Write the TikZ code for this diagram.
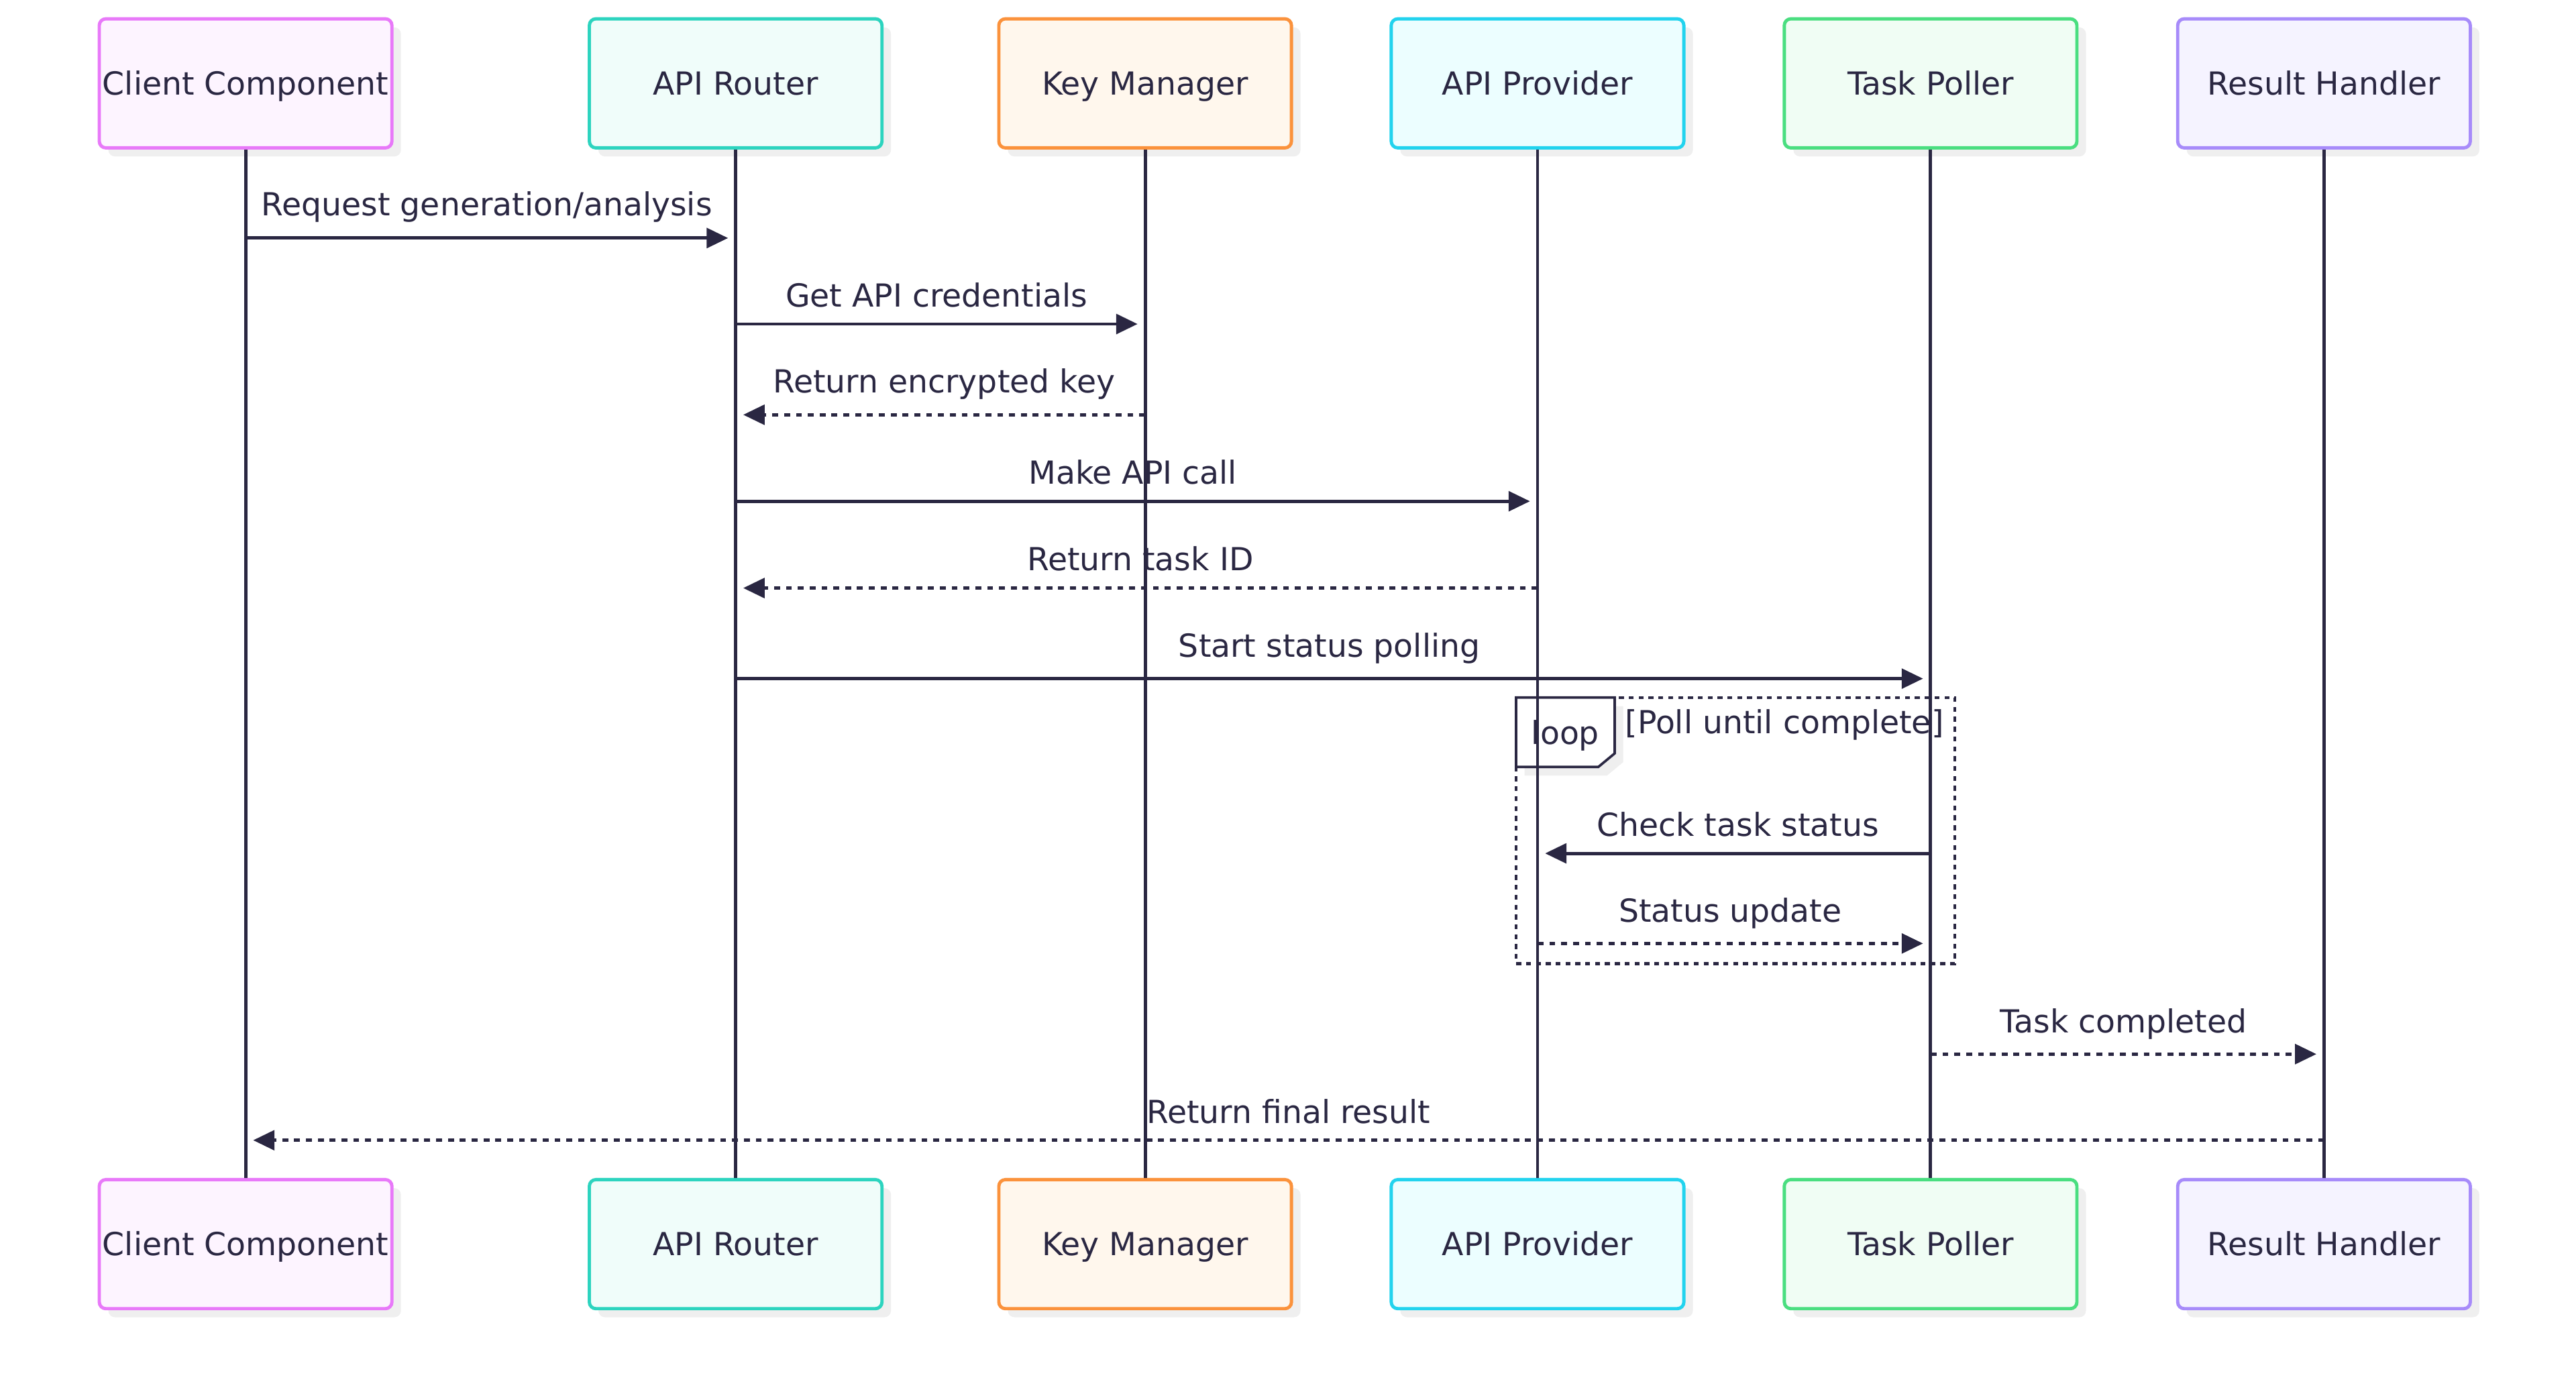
\documentclass[tikz,border=0pt]{standalone}
\usepackage{fontspec}
\setmainfont{DejaVu Sans}
\usetikzlibrary{arrows.meta,shadows,calc}
\definecolor{ink}{HTML}{2A2742}
\definecolor{shadowgray}{HTML}{EFEFEF}
\definecolor{clS}{HTML}{E879F9}\definecolor{clF}{HTML}{FDF4FF}
\definecolor{rtS}{HTML}{2DD4BF}\definecolor{rtF}{HTML}{F0FDFA}
\definecolor{kmS}{HTML}{FB923C}\definecolor{kmF}{HTML}{FFF7ED}
\definecolor{apS}{HTML}{22D3EE}\definecolor{apF}{HTML}{ECFEFF}
\definecolor{tpS}{HTML}{4ADE80}\definecolor{tpF}{HTML}{F0FDF4}
\definecolor{rhS}{HTML}{A78BFA}\definecolor{rhF}{HTML}{F5F3FF}
\begin{document}
\begin{tikzpicture}[x=1pt,y=-1pt,
  font=\fontsize{19.3}{23}\selectfont,
  actor/.style={rectangle, rounded corners=4pt, line width=2pt,
    minimum width=178pt, minimum height=78.5pt, inner sep=0pt, text=ink,
    text height=14pt, text depth=0pt,
    drop shadow={shadow xshift=5.5pt, shadow yshift=-5.2pt, fill=shadowgray, opacity=1}},
  life/.style={draw=ink, line width=2pt},
  msg/.style={draw=ink, line width=2pt, -{Triangle[length=13pt,width=12pt]}},
  reply/.style={msg, dash pattern=on 3.6pt off 3.6pt},
  lbl/.style={anchor=base, text=ink, inner sep=0pt},
]
\useasboundingbox (0,0) rectangle (1567,846.6);
\fill[white] (0,0) rectangle (1567,846.6);

% top actors
\node[actor, draw=clS, fill=clF] (clT) at (149.4,50.7) {Client Component};
\node[actor, draw=rtS, fill=rtF] (rtT) at (447.5,50.7) {API Router};
\node[actor, draw=kmS, fill=kmF] (kmT) at (696.6,50.7) {Key Manager};
\node[actor, draw=apS, fill=apF] (apT) at (935.3,50.7) {API Provider};
\node[actor, draw=tpS, fill=tpF] (tpT) at (1174.4,50.7) {Task Poller};
\node[actor, draw=rhS, fill=rhF] (rhT) at (1413.7,50.7) {Result Handler};
% bottom actors
\node[actor, draw=clS, fill=clF] (clB) at (149.4,756.8) {Client Component};
\node[actor, draw=rtS, fill=rtF] (rtB) at (447.5,756.8) {API Router};
\node[actor, draw=kmS, fill=kmF] (kmB) at (696.6,756.8) {Key Manager};
\node[actor, draw=apS, fill=apF] (apB) at (935.3,756.8) {API Provider};
\node[actor, draw=tpS, fill=tpF] (tpB) at (1174.4,756.8) {Task Poller};
\node[actor, draw=rhS, fill=rhF] (rhB) at (1413.7,756.8) {Result Handler};

% loop frame
\draw[ink, line width=1.8pt, dash pattern=on 3pt off 3pt] (922.2,424.3) rectangle (1189.1,586.2);
\fill[shadowgray] (927.4,429.6) -- (987.4,429.6) -- (987.4,463.6) -- (977.5,471.8) -- (927.4,471.8) -- cycle;
\draw[ink, line width=1.5pt, fill=white] (922.2,424.3) -- (982.2,424.3) -- (982.2,458.3) -- (972.3,466.5) -- (922.2,466.5) -- cycle;

% lifelines
\foreach \a in {cl,rt,km,ap,tp,rh}{
  \draw[life] (\a T.south) -- (\a B.north);
}

\node[lbl] (looplbl) at (952.2,452.9) {loop};
\node[lbl] (loopcond) at (1085.5,446.1) {[Poll until complete]};

% message end points
\coordinate (m1s) at (clT.south |- 0,144.8);
\coordinate (m1e) at ($(rtT.south |- 0,144.8)+(-4.6,0)$);
\coordinate (m2s) at (rtT.south |- 0,197.1);
\coordinate (m2e) at ($(kmT.south |- 0,197.1)+(-4.6,0)$);
\coordinate (m3s) at (kmT.south |- 0,252.3);
\coordinate (m3e) at ($(rtT.south |- 0,252.3)+(4.6,0)$);
\coordinate (m4s) at (rtT.south |- 0,304.9);
\coordinate (m4e) at ($(apT.south |- 0,304.9)+(-4.6,0)$);
\coordinate (m5s) at (apT.south |- 0,357.7);
\coordinate (m5e) at ($(rtT.south |- 0,357.7)+(4.6,0)$);
\coordinate (m6s) at (rtT.south |- 0,412.8);
\coordinate (m6e) at ($(tpT.south |- 0,412.8)+(-4.6,0)$);
\coordinate (m7s) at (tpT.south |- 0,519.1);
\coordinate (m7e) at ($(apT.south |- 0,519.1)+(4.6,0)$);
\coordinate (m8s) at (apT.south |- 0,573.9);
\coordinate (m8e) at ($(tpT.south |- 0,573.9)+(-4.6,0)$);
\coordinate (m9s) at (tpT.south |- 0,641.2);
\coordinate (m9e) at ($(rhT.south |- 0,641.2)+(-4.6,0)$);
\coordinate (m10s) at (rhT.south |- 0,693.6);
\coordinate (m10e) at ($(clT.south |- 0,693.6)+(4.6,0)$);

% messages
\draw[msg] (m1s) -- node[lbl, yshift=13.7pt] {Request generation/analysis} (m1e);
\draw[msg] (m2s) -- node[lbl, yshift=10.4pt] {Get API credentials} (m2e);
\draw[reply] (m3s) -- node[lbl, yshift=13.3pt] {Return encrypted key} (m3e);
\draw[msg] (m4s) -- node[lbl, yshift=10.5pt] {Make API call} (m4e);
\draw[reply] (m5s) -- node[lbl, yshift=10.6pt] {Return task ID} (m5e);
\draw[msg] (m6s) -- node[lbl, yshift=13.0pt] {Start status polling} (m6e);
\draw[msg] (m7s) -- node[lbl, yshift=10.5pt] {Check task status} (m7e);
\draw[reply] (m8s) -- node[lbl, yshift=12.9pt] {Status update} (m8e);
\draw[reply] (m9s) -- node[lbl, yshift=12.9pt] {Task completed} (m9e);
\draw[reply] (m10s) -- node[lbl, yshift=10.2pt] {Return final result} (m10e);
\end{tikzpicture}
\end{document}
